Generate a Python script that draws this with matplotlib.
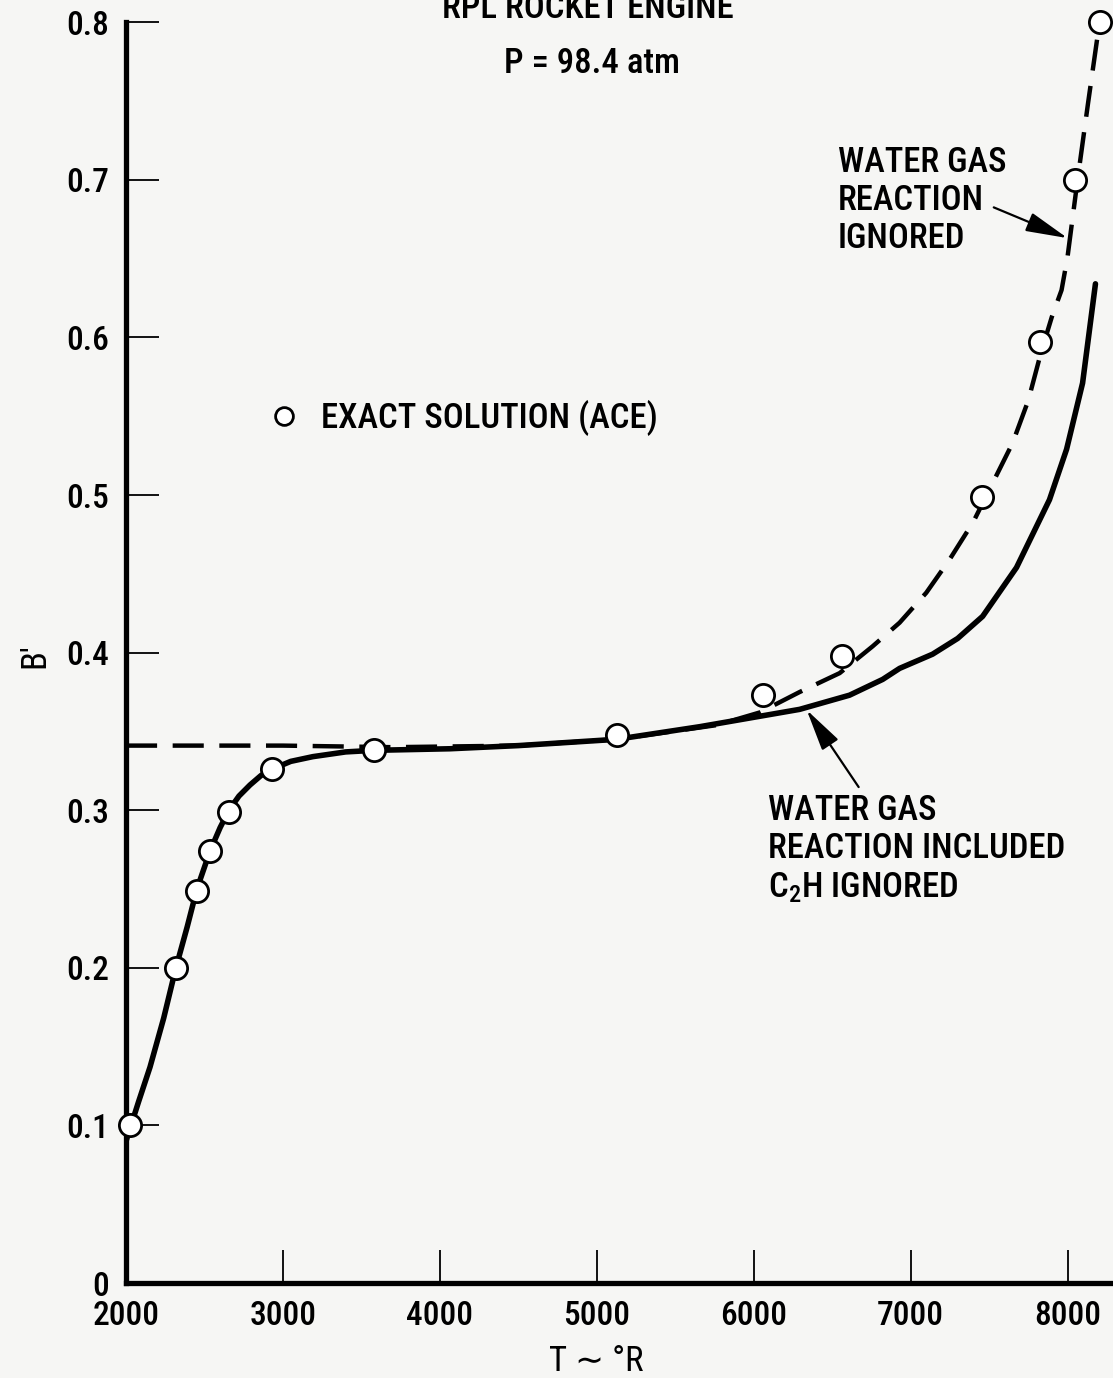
import matplotlib
matplotlib.use("Agg")
import matplotlib.pyplot as plt
from matplotlib import font_manager

# exact solution (ACE) points
ace_T = [2025, 2318, 2452, 2535, 2656, 2930, 3580, 5130, 6060, 6565, 7452, 7822, 8050, 8204]
ace_B = [0.100, 0.200, 0.249, 0.274, 0.299, 0.326, 0.338, 0.348, 0.373, 0.398, 0.499, 0.597, 0.700, 0.800]

# water gas reaction included, C2H ignored (solid)
incl_T = [2000, 2080, 2153, 2240, 2318, 2390, 2452, 2535, 2600, 2656, 2720, 2790, 2860, 2930,
          3050, 3191, 3400, 3580, 4064, 4500, 5127, 5656, 6293, 6611, 6822, 6930, 7140, 7300,
          7459, 7675, 7885, 7994, 8096, 8178]
incl_B = [0.090, 0.115, 0.137, 0.168, 0.200, 0.226, 0.250, 0.274, 0.289, 0.300, 0.309, 0.316,
          0.322, 0.326, 0.331, 0.334, 0.337, 0.338, 0.339, 0.341, 0.345, 0.353, 0.364, 0.373,
          0.383, 0.390, 0.399, 0.409, 0.423, 0.454, 0.497, 0.529, 0.571, 0.634]

# water gas reaction ignored (dashed)
ign_T = [2000, 3000, 3700, 4500, 5127, 5764, 6038, 6293, 6548, 6758, 6930, 7100, 7248, 7400,
         7550, 7650, 7750, 7830, 7900, 7962, 8000, 8064, 8130, 8204]
ign_B = [0.341, 0.341, 0.340, 0.341, 0.345, 0.354, 0.362, 0.375, 0.387, 0.404, 0.419, 0.438,
         0.459, 0.483, 0.513, 0.533, 0.560, 0.590, 0.613, 0.630, 0.651, 0.700, 0.748, 0.800]

x_ticks = [2000, 3000, 4000, 5000, 6000, 7000, 8000]
y_ticks = [0, 0.1, 0.2, 0.3, 0.4, 0.5, 0.6, 0.7, 0.8]
y_tick_labels = ["0", "0.1", "0.2", "0.3", "0.4", "0.5", "0.6", "0.7", "0.8"]

# narrow sans for all the lettering, whichever one is there
have = set(f.name for f in font_manager.fontManager.ttflist)
narrow = "DejaVu Sans"
for name in ["Roboto Condensed", "PT Sans Narrow", "Archivo Narrow",
             "Liberation Sans Narrow", "Open Sans Condensed"]:
    if name in have:
        narrow = name
        break

plt.rcParams["font.family"] = [narrow, "DejaVu Sans"]
plt.rcParams["font.weight"] = "medium"
plt.rcParams["mathtext.fontset"] = "custom"
plt.rcParams["mathtext.rm"] = narrow + ":medium"
plt.rcParams["mathtext.it"] = narrow + ":medium"

fs = 25

fig = plt.figure(figsize=(11.13, 13.78), dpi=100)
fig.patch.set_facecolor("#f6f6f4")
ax = fig.add_axes([0.1132, 0.0689, 0.884, 0.915])
ax.set_facecolor("none")

# curves and ACE points
ax.plot(incl_T, incl_B, color="black", lw=4.0, solid_capstyle="round", zorder=3)
ax.plot(ign_T, ign_B, color="black", lw=3.2, dashes=(7, 3.5), zorder=3)
ace, = ax.plot(ace_T, ace_B, "o", ms=16, mfc="white", mec="black", mew=2.0,
               clip_on=False, zorder=4, label="EXACT SOLUTION (ACE)")

ax.set_xlim(2000, 8270)
ax.set_ylim(0, 0.8)
ax.set_xticks(x_ticks)
ax.set_yticks(y_ticks)
ax.set_yticklabels(y_tick_labels)

for side in ["top", "right"]:
    ax.spines[side].set_visible(False)
for side in ["left", "bottom"]:
    ax.spines[side].set_linewidth(3.8)
ax.tick_params(direction="in", length=24, width=1.3, labelsize=24)
ax.tick_params(axis="y", pad=12)
ax.tick_params(axis="x", pad=12)

# axis labels
ax.set_ylabel("B'", fontsize=fs, va="center")
ax.yaxis.set_label_coords(-0.0925, 0.498)
ax.set_xlabel("T ∼ °R", fontsize=fs, va="center")
ax.xaxis.set_label_coords(0.4776, -0.0626)

# legend for the circles
leg = ax.legend(handles=[ace], loc="center left", bbox_to_anchor=(0.1433, 0.686),
                frameon=False, fontsize=fs, handlelength=1.0, handletextpad=0.55,
                borderpad=0, borderaxespad=0, markerscale=0.8)

# curve labels with arrows
ax.text(6535, 0.687, "WATER GAS\nREACTION\nIGNORED", fontsize=fs, ha="left",
        va="center", linespacing=1.2)
ax.annotate("", xy=(8000, 0.663), xytext=(7530, 0.6825),
            arrowprops=dict(arrowstyle="-|>,head_length=1.3,head_width=0.3", lw=1.6,
                            color="black", mutation_scale=20, shrinkA=0, shrinkB=0))

ax.text(6089, 0.275, "WATER GAS\nREACTION INCLUDED\nC$_2$H IGNORED", fontsize=fs,
        ha="left", va="center", linespacing=1.2)
ax.annotate("", xy=(6338, 0.3636), xytext=(6669, 0.3147),
            arrowprops=dict(arrowstyle="-|>,head_length=1.3,head_width=0.3", lw=1.6,
                            color="black", mutation_scale=20, shrinkA=0, shrinkB=0))

# heading
fig.text(0.528, 0.987, "RPL ROCKET ENGINE", fontsize=fs, ha="center", va="baseline")
fig.text(0.532, 0.947, "P = 98.4 atm", fontsize=fs, ha="center", va="baseline")

fig.savefig("out.png", dpi=100, facecolor=fig.get_facecolor())
